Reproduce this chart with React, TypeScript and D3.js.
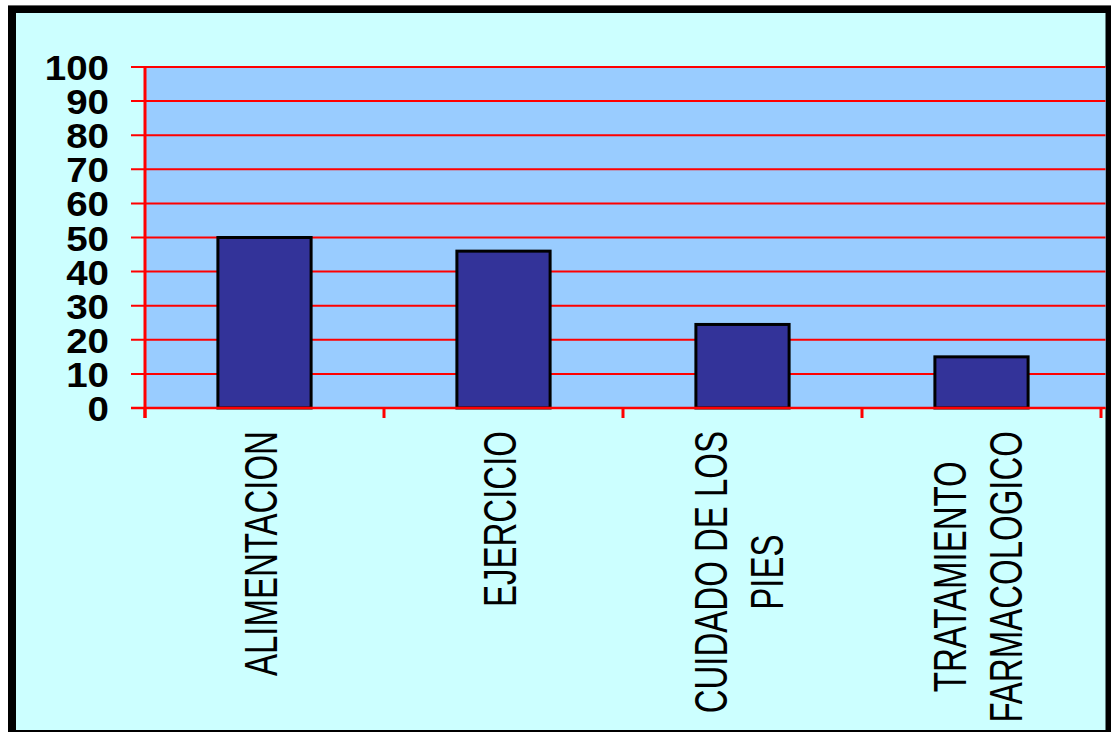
import React, { useEffect, useRef } from "react";
import * as d3 from "d3";

const categories: string[] = [
  "ALIMENTACION",
  "EJERCICIO",
  "CUIDADO DE LOS\nPIES",
  "TRATAMIENTO\nFARMACOLOGICO",
];
const values: number[] = [50, 46, 24.5, 15];
const yTicks: number[] = [0, 10, 20, 30, 40, 50, 60, 70, 80, 90, 100];

const W = 1111;
const H = 735;

export default function App() {
  const ref = useRef<SVGSVGElement | null>(null);

  useEffect(() => {
    const svg = d3.select(ref.current);
    svg.selectAll("*").remove();

    const plotLeft = 145;
    const plotRight = 1101;
    const plotTop = 67;
    const plotBottom = 408;

    const x = d3.scaleBand<string>().domain(categories).range([plotLeft, plotRight]).padding(0);
    const y = d3.scaleLinear().domain([0, 100]).range([plotBottom, plotTop]);

    // outer frame
    svg.append("rect").attr("x", 0).attr("y", 0).attr("width", W).attr("height", H).attr("fill", "#ffffff");
    svg.append("rect").attr("x", 8).attr("y", 5).attr("width", W - 8).attr("height", 1.5).attr("fill", "#666666");
    svg.append("rect").attr("x", 8).attr("y", 6).attr("width", W - 8).attr("height", 726).attr("fill", "#000000");
    svg.append("rect").attr("x", 16).attr("y", 13).attr("width", 1105.5 - 16).attr("height", 730 - 13).attr("fill", "#CCFFFF");

    const g = svg.append("g");

    // plot area
    g.append("rect")
      .attr("x", plotLeft)
      .attr("y", plotTop)
      .attr("width", 1105.5 - plotLeft)
      .attr("height", plotBottom - plotTop)
      .attr("fill", "#99CCFF");

    // gridlines
    g.selectAll("line.grid")
      .data(yTicks)
      .enter()
      .append("line")
      .attr("x1", plotLeft - 14)
      .attr("x2", 1105.5)
      .attr("y1", (d) => y(d))
      .attr("y2", (d) => y(d))
      .attr("stroke", "#FF0000")
      .attr("stroke-width", 2);

    // bars
    const bw = x.bandwidth() * 0.39;
    g.selectAll("rect.bar")
      .data(values)
      .enter()
      .append("rect")
      .attr("x", (_d, i) => (x(categories[i]) as number) + x.bandwidth() / 2 - bw / 2)
      .attr("y", (d) => y(d))
      .attr("width", bw)
      .attr("height", (d) => y(0) - y(d))
      .attr("fill", "#333399")
      .attr("stroke", "#000000")
      .attr("stroke-width", 3);

    // axes lines
    g.append("line")
      .attr("x1", plotLeft)
      .attr("x2", plotLeft)
      .attr("y1", plotTop)
      .attr("y2", plotBottom + 10)
      .attr("stroke", "#FF0000")
      .attr("stroke-width", 3);
    g.append("line")
      .attr("x1", plotLeft - 14)
      .attr("x2", 1105.5)
      .attr("y1", y(0))
      .attr("y2", y(0))
      .attr("stroke", "#FF0000")
      .attr("stroke-width", 2.5);
    const bounds = categories.map((c) => x(c) as number).concat([plotRight]);
    g.selectAll("line.xtick")
      .data(bounds)
      .enter()
      .append("line")
      .attr("x1", (d) => d)
      .attr("x2", (d) => d)
      .attr("y1", plotBottom)
      .attr("y2", plotBottom + 10)
      .attr("stroke", "#FF0000")
      .attr("stroke-width", 3);

    // y tick labels
    g.selectAll("text.ytick")
      .data(yTicks)
      .enter()
      .append("text")
      .attr("transform", (d) => `translate(109,${y(d) + 13}) scale(1.1,1)`)
      .attr("text-anchor", "end")
      .attr("font-family", "'Liberation Sans', Arial, sans-serif")
      .attr("font-weight", "bold")
      .attr("font-size", 35)
      .attr("fill", "#000000")
      .text((d) => String(d));

    // x labels (rotated, multi-line)
    const top = 431;
    categories.forEach((c) => {
      const lines = c.split("\n");
      const n = lines.length;
      const cx = (x(c) as number) + x.bandwidth() / 2 - 4;
      const lg = g.append("g");
      const texts = lines.map((line, i) =>
        lg
          .append("text")
          .attr("x", 0)
          .attr("y", ((i - (n - 1) / 2) * 56 + 16.5) / 1.4)
          .attr("text-anchor", "middle")
          .attr("font-family", "'Liberation Sans', Arial, sans-serif")
          .attr("font-size", 33)
          .attr("fill", "#000000")
          .text(line)
      );
      const maxLen = d3.max(texts, (t) => (t.node() as SVGTextElement).getComputedTextLength()) || 0;
      lg.attr("transform", `translate(${cx},${top + maxLen / 2}) rotate(-90) scale(1,1.4)`);
    });
  }, []);

  return (
    <svg
      ref={ref}
      width={W}
      height={H}
      style={{ position: "absolute", left: 0, top: 0, display: "block" }}
    />
  );
}
